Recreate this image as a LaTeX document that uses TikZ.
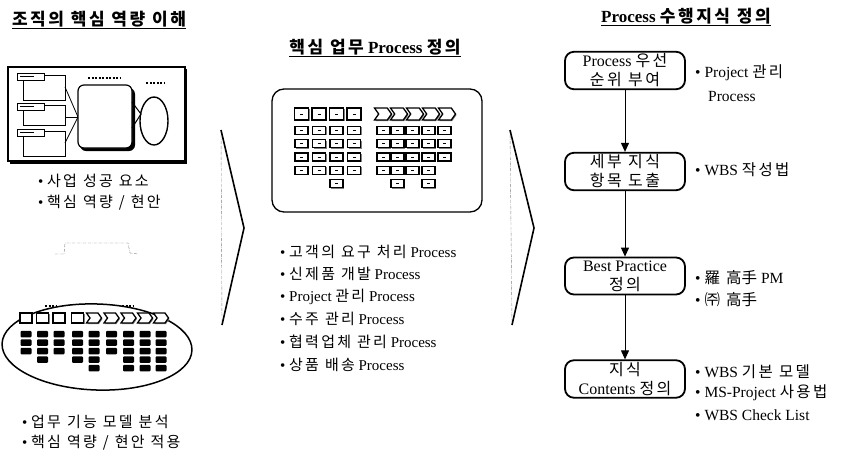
\documentclass[tikz,border=0pt]{standalone}
\usepackage{fontspec}
\setmainfont{Liberation Serif}
\newfontfamily\kr{Noto Sans CJK KR}
\newcommand{\ko}[1]{{\kr\spaceskip=0.4em plus 0.1em\relax #1}}
% wider spacing between hangul syllables
\XeTeXinterchartokenstate=1
\chardef\hangulcls=10
\count255="AC00
\loop \XeTeXcharclass\count255=\hangulcls \advance\count255 by 1 \ifnum\count255<"D7A4 \repeat
\XeTeXinterchartoks\hangulcls\hangulcls={\kern0.15em}
\usetikzlibrary{positioning,shapes.symbols,arrows.meta,shadows}

\tikzset{
	head/.style={font=\bfseries\fontsize{17}{20}\selectfont, inner sep=1pt},
	item/.style={anchor=west, inner sep=0pt, font=\fontsize{15}{18}\selectfont},
	note/.style={item, font=\fontsize{15.5}{18}\selectfont},
	stepbox/.style={draw, line width=1.8pt, rounded corners=9pt, minimum width=120, minimum height=37, align=center, font=\fontsize{16}{19}\selectfont, inner sep=2pt},
	cell/.style={draw, line width=1.3pt, fill=white, minimum width=13, minimum height=8, inner sep=0pt, drop shadow={shadow xshift=1pt, shadow yshift=-1pt, opacity=1}},
	topcell/.style={cell, minimum width=14, minimum height=12},
	chev/.style={draw, line width=1.3pt, fill=white, shape=signal, signal to=east, signal from=west, signal pointer angle=110, minimum width=17, minimum height=12, inner sep=0pt, drop shadow={shadow xshift=1pt, shadow yshift=-1pt, opacity=1}},
	blk/.style={fill=black, rounded corners=1pt, minimum width=11, minimum height=6.5, inner sep=0pt},
	sep/.style={line width=1.6pt, line join=round},
	faint/.style={gray, thin, densely dashdotted},
}

\begin{document}
\begin{tikzpicture}[x=1pt, y=-1pt]
	\useasboundingbox (0,0) rectangle (845,453);

	% column titles
	\node (TitleCore) [head] at (99,20) {\underline{\ko{조직의 핵심 역량 이해}}};
	\node (TitleProc) [head] at (375,48) {\underline{\ko{핵심 업무} Process \ko{정의}}};
	\node (TitleKnow) [head] at (686,17) {\underline{Process \ko{수행지식 정의}}};

	% left: organisation picture
	\fill (10,69) rectangle (187,164);
	\draw[fill=white, line width=1.2pt] (8,67) rectangle (185,161);
	\foreach \t/\b in {75/100, 105/125, 131/156} {
		\draw[line width=1pt] (23,\t) rectangle (65,\b);
		\draw[line width=1pt, fill=white] (17,\t-2) rectangle (44,\t+5);
		\draw[line width=1.5pt] (20,\t+1.5) -- (34,\t+1.5);
		\draw[line width=0.8pt] (65,\t+12) -- (78,117);
	}
	\fill[rounded corners=6] (80,88) rectangle (135,151);
	\draw[fill=white, line width=1.2pt, rounded corners=6] (78,85) rectangle (132,148);
	\draw[line width=1.5pt, dash pattern=on 2pt off 1.5pt] (88,78) -- (120,78);
	\draw[line width=1.5pt, dash pattern=on 2pt off 1.5pt] (146,83) -- (165,83);
	\draw[line width=1.4pt] (154,121) ellipse [x radius=14, y radius=24];
	\draw[line width=1pt] (132,102) -- (141,114) -- (132,128);

	\node (CoreA) [item] at (38,181) {• \ko{사업 성공 요소}};
	\node (CoreB) [item] at (38,203) {• \ko{핵심 역량 / 현안}};

	\draw[faint] (55,254) -- (64,254) -- (65,243) -- (128,243) -- (130,253) -- (138,254);

	% left: business function model
	\draw[line width=1.5pt, rotate around={-2:(97,347)}] (97,347) ellipse [x radius=95, y radius=43];
	\draw[line width=1.5pt, dash pattern=on 2pt off 1.5pt] (45,306) -- (56,306);
	\draw[line width=1.5pt, dash pattern=on 2pt off 1.5pt] (122,306) -- (133,306);
	\foreach \x/\num [count=\c] in {26/3, 42.5/4, 59/3, 77.5/4, 94/5, 111.5/3, 128.5/5, 145/5, 161/5} {
		\ifnum\c<5
			\node (fh\c) [cell, minimum width=12, minimum height=10] at (\x,318) {};
		\else
			\node (fh\c) [chev, minimum width=15, minimum height=10] at (\x,318) {};
		\fi
		\foreach \r in {1,...,\num}
			\node (fb\c-\r) [blk] at (\x,{325.5+8.5*\r}) {};
	}

	\node (ModelA) [item] at (22,422) {• \ko{업무 기능 모델 분석}};
	\node (ModelB) [item] at (22,443) {• \ko{핵심 역량 / 현안 적용}};

	% separators
	\draw[faint] (221,130) -- (222,325);
	\draw[sep] (221,130) -- (244,228) -- (222,325);
	\draw[faint] (510,130) -- (512,325);
	\draw[sep] (510,130) -- (534,228) -- (512,325);

	% middle: core process panel
	\node (ProcPanel) [draw, line width=1.3pt, rounded corners=12, minimum width=210, minimum height=123] at (377,150.5) {};
	\foreach \x/\num [count=\c] in {301.5/4, 319/4, 336.5/5, 354/4} {
		\node (ph\c) [topcell] at (\x,114) {\rule{3pt}{1pt}};
		\foreach \r in {1,...,\num}
			\node (pc\c-\r) [cell] at (\x,{117+13.3*\r}) {\rule{3pt}{0.8pt}};
	}
	\foreach \x in {383, 399, 415, 431, 447}
		\node (pv\x) [chev] at (\x,114) {};
	\foreach \x/\num [count=\c] in {383.5/4, 397.5/5, 412.5/4, 428.5/5, 444.5/3} {
		\foreach \r in {1,...,\num}
			\node (pd\c-\r) [cell] at (\x,{117+13.3*\r}) {\rule{3pt}{0.8pt}};
	}

	\node (ProcA) [item] at (280,252) {• \ko{고객의 요구 처리} Process};
	\node (ProcB) [item] at (280,274) {• \ko{신제품 개발} Process};
	\node (ProcC) [item] at (280,297) {• Project \ko{관리} Process};
	\node (ProcD) [item] at (280,319) {• \ko{수주 관리} Process};
	\node (ProcE) [item] at (280,342) {• \ko{협력업체 관리} Process};
	\node (ProcF) [item] at (280,365) {• \ko{상품 배송} Process};

	% right: knowledge steps
	\node (Prio) [stepbox] at (625,70.5) {Process \ko{우선}\\\ko{순위 부여}};
	\node (Items) [stepbox] at (625,171.5) {\ko{세부 지식}\\\ko{항목 도출}};
	\node (Best) [stepbox] at (625,276) {Best Practice\\\ko{정의}};
	\node (Cont) [stepbox] at (625,379) {\ko{지식}\\Contents \ko{정의}};
	\draw[-{Triangle[length=9pt,width=8pt]}, line width=1pt] (Prio) -- (Items);
	\draw[-{Triangle[length=9pt,width=8pt]}, line width=1pt] (Items) -- (Best);
	\draw[-{Triangle[length=9pt,width=8pt]}, line width=1pt] (Best) -- (Cont);

	\node (PrioA) [note] at (695,73) {• Project \ko{관리}};
	\node (PrioB) [note] at (708,96) {Process};
	\node (ItemsA) [note] at (695,170) {• WBS \ko{작성법}};
	\node (BestA) [note] at (695,278) {• \ko{羅 高手} PM};
	\node (BestB) [note] at (695,300) {• \ko{㈜ 高手}};
	\node (ContA) [note] at (695,372) {• WBS \ko{기본 모델}};
	\node (ContB) [note] at (695,393) {• MS-Project \ko{사용법}};
	\node (ContC) [note] at (695,415) {• WBS Check List};
\end{tikzpicture}
\end{document}
